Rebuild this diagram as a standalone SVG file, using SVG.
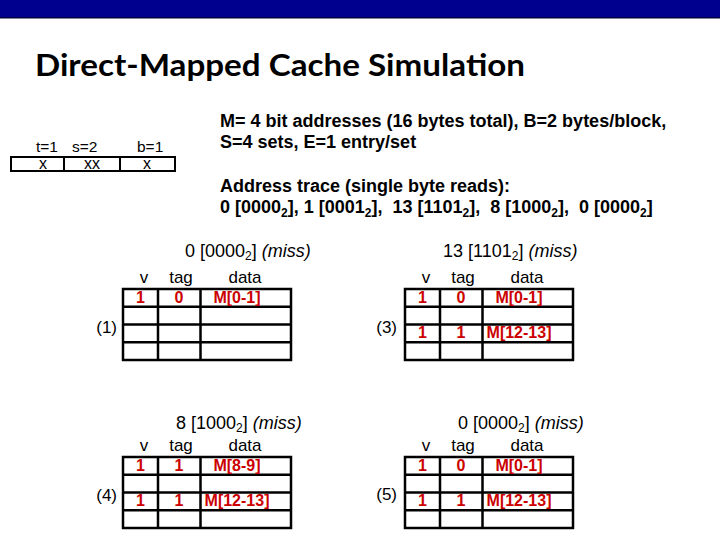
<svg xmlns="http://www.w3.org/2000/svg" width="720" height="540" viewBox="0 0 720 540">
<style>
.t{font-family:"Liberation Sans",Arial,sans-serif;fill:#000}
.b{font-weight:bold}
.hd{font-size:17px;text-anchor:middle}
.ttl{font-size:18px}
.lbl{font-size:17px;text-anchor:end}
.red{font-family:"Liberation Sans",Arial,sans-serif;font-weight:bold;font-size:16px;fill:#CC0000;text-anchor:middle}
.grid{fill:none;stroke:#000;stroke-width:2.5}
.info{font-size:18px;font-weight:bold}
</style>
<defs>
<g id="grid">
<rect x="0" y="0" width="168" height="71" class="grid"/>
<path d="M0 17.75H168M0 35.5H168M0 53.25H168M35 0V71M77.5 0V71" class="grid"/>
</g>
<g id="hdr">
<text x="21" y="-6" class="t hd">v</text>
<text x="58" y="-6" class="t hd">tag</text>
<text x="122" y="-6" class="t hd">data</text>
</g>
</defs>
<rect x="0" y="0" width="720" height="540" fill="#fff"/>
<g id="topbar">
<rect x="0" y="0" width="720" height="17" fill="#00008E"/>
<rect x="0" y="17" width="720" height="1.5" fill="#000040"/>
</g>
<g id="title">
<text x="35" y="76" font-family="Lato,'Open Sans',sans-serif" font-weight="bold" font-size="30" textLength="490" lengthAdjust="spacingAndGlyphs" fill="#000">Direct-Mapped Cache Simulation</text>
</g>
<g id="address-fields">
<text x="36" y="152" class="t" font-size="15.5">t=1</text>
<text x="72" y="152" class="t" font-size="15.5">s=2</text>
<text x="137" y="152" class="t" font-size="15.5">b=1</text>
<rect x="11" y="157" width="164" height="14" fill="none" stroke="#000" stroke-width="2"/>
<path d="M64 157V171M120 157V171" stroke="#000" stroke-width="2"/>
<text x="43" y="169" class="t" font-size="16" text-anchor="middle">x</text>
<text x="92" y="169" class="t" font-size="16" text-anchor="middle">xx</text>
<text x="147" y="169" class="t" font-size="16" text-anchor="middle">x</text>
</g>
<g id="info">
<text x="220" y="127" class="t info">M= 4 bit addresses (16 bytes total), B=2 bytes/block,</text>
<text x="220" y="148" class="t info">S=4 sets, E=1 entry/set</text>
<text x="220" y="192" class="t info">Address trace (single byte reads):</text>
<text x="220" y="213" class="t info" style="white-space:pre" xml:space="preserve">0 [0000<tspan font-size="12" dy="4">2</tspan><tspan dy="-4">], 1 [0001</tspan><tspan font-size="12" dy="4">2</tspan><tspan dy="-4">],  13 [1101</tspan><tspan font-size="12" dy="4">2</tspan><tspan dy="-4">],  8 [1000</tspan><tspan font-size="12" dy="4">2</tspan><tspan dy="-4">],  0 [0000</tspan><tspan font-size="12" dy="4">2</tspan><tspan dy="-4">]</tspan></text>
</g>
<g id="cache1">
<text x="185" y="257" class="t ttl">0 [0000<tspan font-size="12" dy="3">2</tspan><tspan dy="-3">] </tspan><tspan font-style="italic">(miss)</tspan></text>
<text x="117" y="333" class="t lbl">(1)</text>
<g transform="translate(123,289)">
<use href="#hdr"/><use href="#grid"/>
<text x="17.5" y="13.5" class="red">1</text><text x="56" y="13.5" class="red">0</text><text x="114" y="13.5" class="red">M[0-1]</text>
</g>
</g>
<g id="cache3">
<text x="443" y="257" class="t ttl">13 [1101<tspan font-size="12" dy="3">2</tspan><tspan dy="-3">] </tspan><tspan font-style="italic">(miss)</tspan></text>
<text x="397" y="333" class="t lbl">(3)</text>
<g transform="translate(405,289)">
<use href="#hdr"/><use href="#grid"/>
<text x="17.5" y="13.5" class="red">1</text><text x="56" y="13.5" class="red">0</text><text x="114" y="13.5" class="red">M[0-1]</text>
<text x="17.5" y="49" class="red">1</text><text x="56" y="49" class="red">1</text><text x="114" y="49" class="red">M[12-13]</text>
</g>
</g>
<g id="cache4">
<text x="176" y="429" class="t ttl">8 [1000<tspan font-size="12" dy="3">2</tspan><tspan dy="-3">] </tspan><tspan font-style="italic">(miss)</tspan></text>
<text x="117" y="501" class="t lbl">(4)</text>
<g transform="translate(123,457)">
<use href="#hdr"/><use href="#grid"/>
<text x="17.5" y="13.5" class="red">1</text><text x="56" y="13.5" class="red">1</text><text x="114" y="13.5" class="red">M[8-9]</text>
<text x="17.5" y="49" class="red">1</text><text x="56" y="49" class="red">1</text><text x="114" y="49" class="red">M[12-13]</text>
</g>
</g>
<g id="cache5">
<text x="458" y="429" class="t ttl">0 [0000<tspan font-size="12" dy="3">2</tspan><tspan dy="-3">] </tspan><tspan font-style="italic">(miss)</tspan></text>
<text x="397" y="500" class="t lbl">(5)</text>
<g transform="translate(405,457)">
<use href="#hdr"/><use href="#grid"/>
<text x="17.5" y="13.5" class="red">1</text><text x="56" y="13.5" class="red">0</text><text x="114" y="13.5" class="red">M[0-1]</text>
<text x="17.5" y="49" class="red">1</text><text x="56" y="49" class="red">1</text><text x="114" y="49" class="red">M[12-13]</text>
</g>
</g>
<g id="connectors"/>
</svg>
